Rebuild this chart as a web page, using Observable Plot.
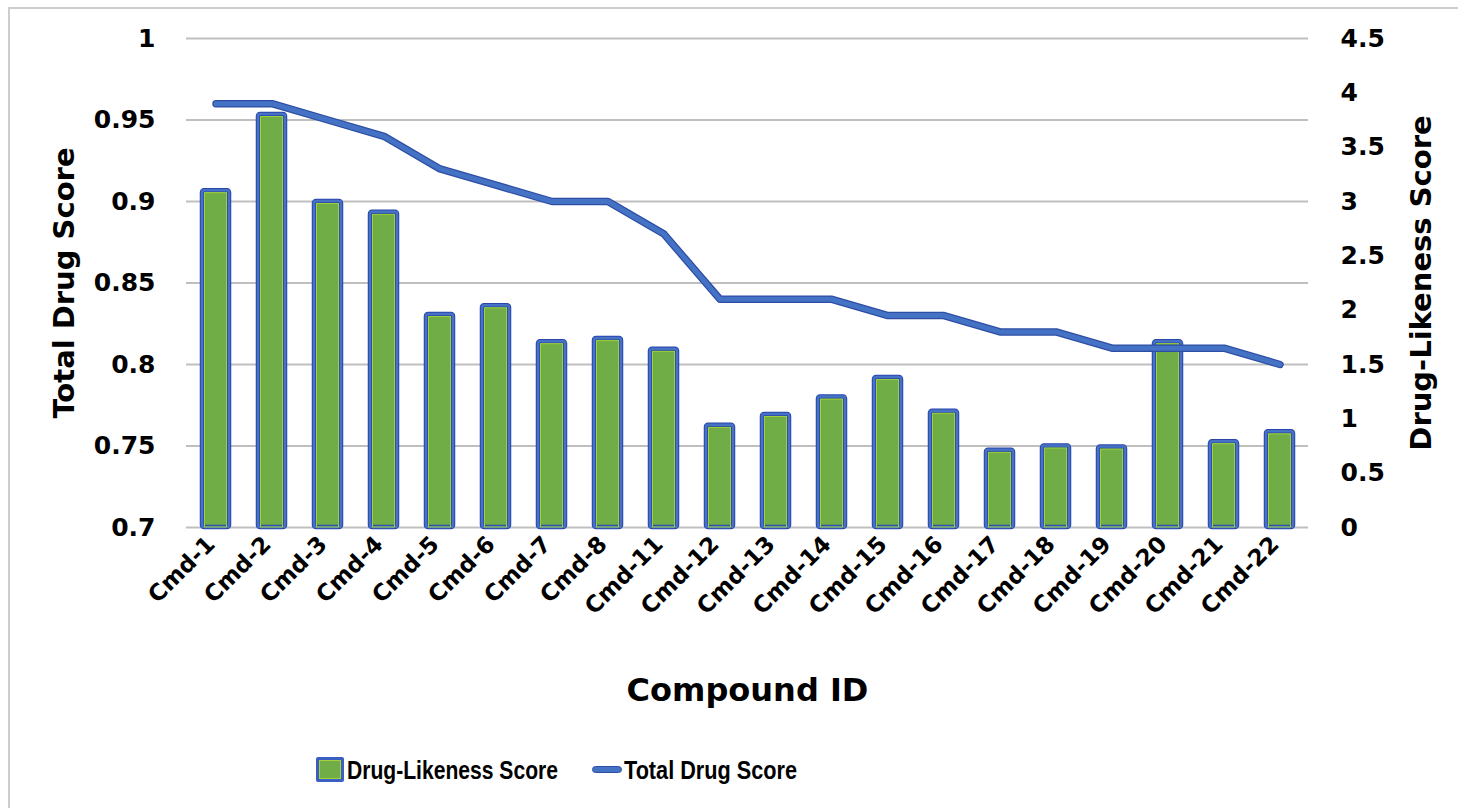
<!DOCTYPE html>
<html><head><meta charset="utf-8">
<script src="https://cdn.jsdelivr.net/npm/d3@7"></script>
<script src="https://cdn.jsdelivr.net/npm/@observablehq/plot@0.6"></script>
<style>
body{margin:0;background:#fff;overflow:hidden;width:1458px;height:808px;position:relative;font-family:"DejaVu Sans",sans-serif}
#frame{position:absolute;left:8px;top:7px;width:1500px;height:900px;border-top:2px solid #cdcdcd;border-left:2px solid #cdcdcd}
#chart{position:absolute;left:0;top:0}
#legend{position:absolute;left:0;top:0;width:1458px;height:808px;pointer-events:none}
.lg{position:absolute;font-family:"Liberation Sans",Arial,sans-serif;font-weight:bold;font-size:26px;color:#000;line-height:1;white-space:nowrap;transform-origin:0 50%}
.sw-bar{position:absolute;box-sizing:border-box;background:#70AD47;border:3px solid #3a5fc2;box-shadow:inset 0 0 0 1px #a6d13a;border-radius:2px}
.sw-line{position:absolute;background:#4472C4;border:1px solid #2e4ea5;border-radius:4px;box-sizing:border-box}
</style></head><body>
<div id="frame"></div><div id="chart"></div><div id="legend"></div>
<script>
const compounds = ["Cmd-1","Cmd-2","Cmd-3","Cmd-4","Cmd-5","Cmd-6","Cmd-7","Cmd-8","Cmd-11","Cmd-12","Cmd-13","Cmd-14","Cmd-15","Cmd-16","Cmd-17","Cmd-18","Cmd-19","Cmd-20","Cmd-21","Cmd-22"];
const drugLikeness = [3.10,3.80,3.00,2.90,1.96,2.04,1.71,1.74,1.64,0.94,1.04,1.20,1.38,1.07,0.71,0.75,0.74,1.71,0.79,0.88];
const totalDrugScore = [0.96,0.96,0.95,0.94,0.92,0.91,0.90,0.90,0.88,0.84,0.84,0.84,0.83,0.83,0.82,0.82,0.81,0.81,0.81,0.80];
const leftTicks = [0.7,0.75,0.8,0.85,0.9,0.95,1];
const rightTicks = [0,0.5,1,1.5,2,2.5,3,3.5,4,4.5];
const seriesNames = ["Drug-Likeness Score","Total Drug Score"];
const axisTitles = {x:"Compound ID", left:"Total Drug Score", right:"Drug-Likeness Score"};

const leftMin = 0.7, leftMax = 1, rightMax = 4.5;
const toLeft = v => leftMin + v * (leftMax - leftMin) / rightMax;
const fromLeft = d => (d - leftMin) * rightMax / (leftMax - leftMin);
const fmt = d3.format("~g");

const rows = compounds.map((c, i) => ({compound: c, dl: drugLikeness[i], tds: totalDrugScore[i]}));

const chart = Plot.plot({
  width: 1458,
  height: 720,
  marginLeft: 186,
  marginRight: 150,
  marginTop: 38,
  marginBottom: 193,
  style: {fontFamily: "'DejaVu Sans', sans-serif", fontWeight: "bold", color: "#000", background: "transparent"},
  x: {domain: compounds, paddingInner: 0.52, paddingOuter: 0.26, axis: null},
  y: {domain: [leftMin, leftMax], axis: null},
  marks: [
    Plot.gridY(leftTicks, {stroke: "#bfbfbf", strokeWidth: 2, strokeOpacity: 1}),
    Plot.barY(rows, {x: "compound", y1: () => leftMin, y2: d => toLeft(d.dl), fill: "#70AD47", stroke: "#2a45aa", strokeWidth: 4.5, rx: 2}),
    Plot.barY(rows, {x: "compound", y1: () => leftMin, y2: d => toLeft(d.dl), fill: "none", stroke: "#4472C4", strokeWidth: 2.5, rx: 2}),
    Plot.barY(rows, {x: "compound", y1: () => leftMin, y2: d => toLeft(d.dl), fill: "none", stroke: "#9fd03a", strokeWidth: 1, insetLeft: 2.5, insetRight: 2.5, insetTop: 2.5}),
    Plot.lineY(rows, {x: "compound", y: "tds", stroke: "#2e4ea5", strokeWidth: 7.5, strokeLinecap: "round", strokeLinejoin: "round"}),
    Plot.lineY(rows, {x: "compound", y: "tds", stroke: "#4472C4", strokeWidth: 5, strokeLinecap: "round", strokeLinejoin: "round"}),
    Plot.axisY(leftTicks, {anchor: "left", tickSize: 0, tickPadding: 31, fontSize: 25, fontWeight: "bold", tickFormat: fmt, label: null}),
    Plot.axisY(rightTicks.map(toLeft), {anchor: "right", tickSize: 0, tickPadding: 32, fontSize: 25, fontWeight: "bold", tickFormat: d => fmt(+fromLeft(d).toFixed(3)), label: null}),
    Plot.axisX(compounds, {anchor: "bottom", tickSize: 0, tickPadding: 13, tickRotate: -45, fontSize: 23, fontWeight: "bold", dx: -5, label: null}),
    Plot.text([axisTitles.left], {text: d => d, frameAnchor: "left", dx: -122, rotate: -90, fontSize: 29, fontWeight: "bold", textAnchor: "middle", lineAnchor: "middle"}),
    Plot.text([axisTitles.right], {text: d => d, frameAnchor: "right", dx: 113, rotate: -90, fontSize: 29, fontWeight: "bold", textAnchor: "middle", lineAnchor: "middle"}),
    Plot.text([axisTitles.x], {text: d => d, frameAnchor: "bottom", dy: 163, fontSize: 32, fontWeight: "bold", textAnchor: "middle", lineAnchor: "middle"})
  ]
});
document.getElementById("chart").appendChild(chart);

const lg = document.getElementById("legend");
lg.innerHTML =
  `<div class="sw-bar" style="left:316px;top:757px;width:28px;height:25px"></div>` +
  `<div class="lg" id="lg0" style="left:347px;top:757px">${seriesNames[0]}</div>` +
  `<div class="sw-line" style="left:592px;top:766px;width:30px;height:7px"></div>` +
  `<div class="lg" id="lg1" style="left:624px;top:757px">${seriesNames[1]}</div>`;
// squeeze legend labels horizontally to the narrow look of the original
[["lg0", 211], ["lg1", 173]].forEach(([id, target]) => {
  const el = document.getElementById(id);
  const w = el.getBoundingClientRect().width;
  if (w > 0) el.style.transform = `scaleX(${target / w})`;
});
</script>
</body></html>
